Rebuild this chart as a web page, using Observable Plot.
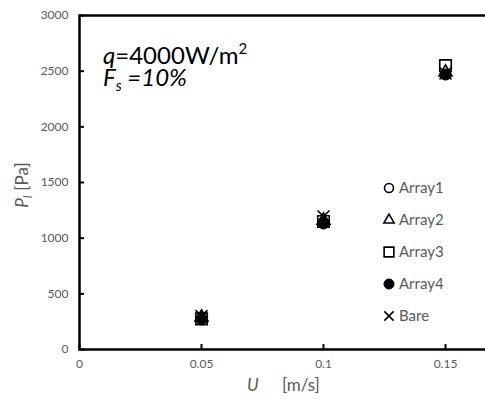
<!DOCTYPE html>
<html>
<head>
<meta charset="utf-8">
<script src="https://cdn.jsdelivr.net/npm/d3@7"></script>
<script src="https://cdn.jsdelivr.net/npm/@observablehq/plot@0.6"></script>
<style>
  html, body { margin: 0; padding: 0; background: #fff; overflow: hidden; }
  #wrap { position: relative; width: 485px; height: 400px; overflow: hidden; font-family: Lato, "Open Sans", sans-serif; }
  #wrap svg { max-width: none !important; height: auto; }
  #wrap > svg.overlay { position: absolute; left: 0; top: 0; pointer-events: none; }
</style>
</head>
<body>
<div id="wrap"></div>
<script>
// ---- data ----
const series = ["Array1", "Array2", "Array3", "Array4", "Bare"];
const velocity = [0.05, 0.1, 0.15];          // U [m/s]
const array1 = [280, 1130, 2470];            // P_l [Pa]
const array2 = [290, 1160, 2490];
const array3 = [275, 1150, 2550];
const array4 = [270, 1140, 2470];
const bare   = [300, 1195, 2480];
const xTicks = [0, 0.05, 0.1, 0.15];
const yTicks = [0, 500, 1000, 1500, 2000, 2500, 3000];

const values = {Array1: array1, Array2: array2, Array3: array3, Array4: array4, Bare: bare};
const symbols = {Array1: "circle", Array2: "triangle", Array3: "square", Array4: "circle", Bare: "times"};
const radius = {Array1: 5, Array2: 4.8, Array3: 6.5, Array4: 5.5, Bare: 5.5};
const legendRadius = {Array1: 4.5, Array2: 3.8, Array3: 5.5, Array4: 5, Bare: 4.3};
const filled = {Array4: true};

const rows = series.flatMap(s => velocity.map((u, i) => ({series: s, u, p: values[s][i]})));

const gray = "#595959";
const marks = [
  Plot.axisY({ticks: yTicks, tickSize: -5, tickPadding: 16, tickFormat: d => String(d), label: null,
               fontSize: 12, fill: gray, stroke: "black", strokeWidth: 2}),
  Plot.axisX({ticks: xTicks, tickSize: -5, tickPadding: 15, tickFormat: d => String(d), label: null,
               fontSize: 12, fill: gray, stroke: "black", strokeWidth: 2}),
  Plot.frame({stroke: "black", strokeWidth: 2.5})
];
for (const s of series) {
  marks.push(Plot.dot(rows.filter(d => d.series === s), {
    x: "u", y: "p", symbol: () => symbols[s], r: radius[s],
    fill: filled[s] ? "black" : "none", stroke: "black", strokeWidth: filled[s] ? 1 : 1.6
  }));
}

const chart = Plot.plot({
  width: 610, height: 400,
  marginLeft: 79, marginRight: 43, marginTop: 15, marginBottom: 51,
  x: {domain: [0, 0.2]},
  y: {domain: [0, 3000]},
  symbol: {type: "identity"},
  style: {fontFamily: "Lato, 'Open Sans', sans-serif", background: "white", maxWidth: "none"},
  marks
});
const wrap = document.getElementById("wrap");
wrap.appendChild(chart);

// ---- overlay: annotation, axis titles, legend ----
const ov = d3.select(wrap).append("svg").attr("class", "overlay")
  .attr("width", 485).attr("height", 400)
  .style("font-family", "Lato, 'Open Sans', sans-serif");

const t1 = ov.append("text").attr("x", 103).attr("y", 64).attr("font-size", 24).attr("fill", "black");
t1.append("tspan").attr("font-style", "italic").text("q");
t1.append("tspan").text("=4000W/m");
t1.append("tspan").attr("dy", -10).attr("font-size", 15).text("2");

const t2 = ov.append("text").attr("x", 103).attr("y", 86).attr("font-size", 24).attr("font-style", "italic").attr("fill", "black");
t2.append("tspan").text("F");
t2.append("tspan").attr("dy", 5).attr("font-size", 15).text("s");
t2.append("tspan").attr("dy", -5).text(" =10%");

const xl = ov.append("text").attr("y", 391).attr("font-size", 17).attr("fill", gray);
xl.append("tspan").attr("x", 247).attr("font-style", "italic").text("U");
xl.append("tspan").attr("x", 282).text("[m/s]");

const yl = ov.append("text").attr("transform", "translate(28,185) rotate(-90)")
  .attr("text-anchor", "middle").attr("font-size", 17).attr("fill", gray);
yl.append("tspan").attr("font-style", "italic").text("P");
yl.append("tspan").attr("dy", 4).attr("font-size", 11).attr("font-style", "italic").text("l");
yl.append("tspan").attr("dy", -4).attr("dx", 5).text("[Pa]");

const d3sym = {circle: d3.symbolCircle, triangle: d3.symbolTriangle, square: d3.symbolSquare, times: d3.symbolTimes};
series.forEach((s, i) => {
  const cy = 188 + i * 32;
  ov.append("path")
    .attr("transform", `translate(389,${cy})`)
    .attr("d", d3.symbol(d3sym[symbols[s]], Math.PI * legendRadius[s] * legendRadius[s])())
    .attr("fill", filled[s] ? "black" : "none")
    .attr("stroke", "black").attr("stroke-width", filled[s] ? 1 : 1.6);
  ov.append("text").attr("x", 399).attr("y", cy).attr("dy", "0.35em")
    .attr("font-size", 15).attr("fill", gray).text(s);
});
</script>
</body>
</html>
